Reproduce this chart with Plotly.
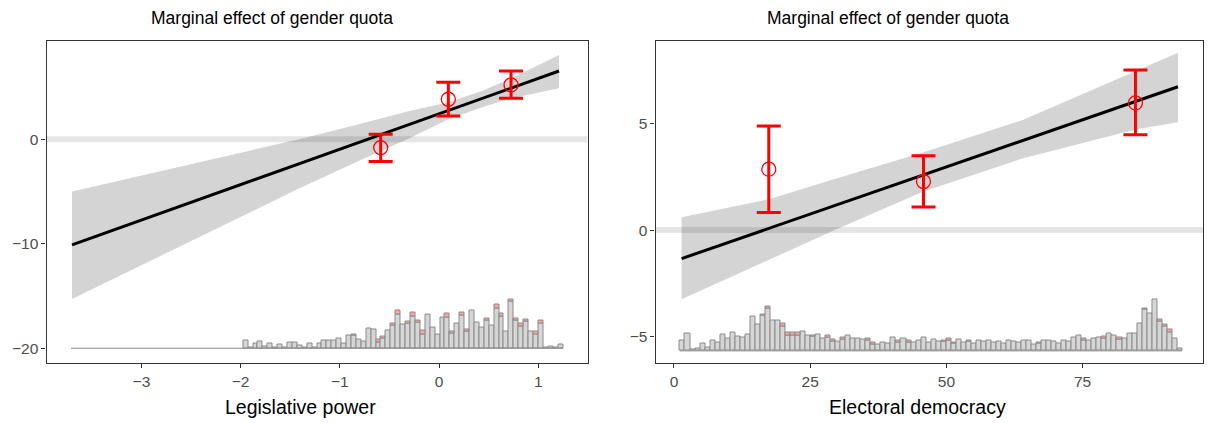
import numpy as np
import plotly.graph_objects as go

W, H = 1209, 423

# ---------------- Left panel: Legislative power ----------------
leg_line_x = [-3.70, 1.21]
leg_line_y = [-10.11, 6.53]
leg_rib_x = [-3.70, -2.5, -1.4, -0.8, -0.31, 0.1, 0.45, 0.72, 1.21]
leg_rib_upper = [-5.01, -2.35, 0.03, 1.47, 2.68, 3.55, 4.70, 5.80, 8.06]
leg_rib_lower = [-15.28, -9.75, -4.67, -2.03, 0.05, 1.95, 3.10, 3.90, 4.88]
leg_pts_x = [-0.588, 0.094, 0.726]
leg_pts_y = [-0.80, 3.83, 5.20]
leg_pts_lo = [-2.14, 2.23, 3.92]
leg_pts_hi = [0.48, 5.45, 6.54]
leg_hist_range = [-3.71, 1.25]
leg_hist_total = [0] * 35 + [
    23, 3, 13, 20, 5, 15, 3, 12, 3, 18, 18, 8, 3, 15, 3, 13, 23, 23, 24, 28,
    13, 39, 40, 27, 21, 60, 55, 27, 35, 52, 75, 113, 72, 80, 107, 83, 53, 101, 63, 40,
    93, 103, 51, 75, 108, 57, 114, 78, 63, 89, 67, 130, 105, 51, 147, 89, 73, 87, 49, 49,
    82, 3, 5, 2, 11]
leg_hist_treated = [0] * 35 + [
    0, 0, 0, 0, 0, 0, 0, 0, 0, 0, 0, 0, 0, 0, 0, 0, 0, 0, 0, 0,
    0, 0, 3, 0, 0, 0, 0, 9, 5, 0, 7, 12, 0, 6, 11, 7, 12, 0, 0, 0,
    0, 10, 6, 0, 10, 6, 0, 0, 0, 6, 0, 11, 9, 0, 6, 6, 7, 8, 0, 8,
    9, 0, 0, 0, 0]
leg_xticks = [-3, -2, -1, 0, 1]
leg_yticks = [-20, -10, 0]

# ---------------- Right panel: Electoral democracy ----------------
dem_line_x = [1.4, 92.5]
dem_line_y = [-1.34, 6.73]
dem_rib_x = [1.4, 17.4, 29.5, 45.8, 63.8, 84.7, 92.5]
dem_rib_upper = [0.60, 1.45, 2.40, 3.65, 5.15, 7.47, 8.33]
dem_rib_lower = [-3.25, -1.40, 0.0, 1.81, 3.35, 4.72, 5.06]
dem_pts_x = [17.4, 45.8, 84.7]
dem_pts_y = [2.86, 2.28, 5.97]
dem_pts_lo = [0.82, 1.08, 4.47]
dem_pts_hi = [4.89, 3.49, 7.52]
dem_hist_range = [1.1, 93.3]
dem_hist_total = [
    30, 50, 5, 8, 22, 9, 30, 23, 47, 35, 53, 42, 39, 47, 100, 75, 105, 127, 87, 87,
    78, 53, 53, 53, 55, 45, 45, 47, 37, 45, 33, 27, 38, 43, 37, 37, 32, 36, 23, 18,
    23, 21, 38, 30, 35, 30, 23, 29, 39, 23, 34, 26, 31, 35, 25, 34, 25, 30, 20, 29,
    26, 31, 24, 28, 22, 30, 27, 25, 30, 29, 17, 25, 30, 30, 28, 20, 30, 27, 39, 45,
    35, 30, 35, 40, 42, 50, 45, 39, 35, 50, 50, 78, 123, 107, 147, 90, 75, 62, 37, 8]
dem_hist_treated = [
    0, 0, 0, 0, 0, 0, 0, 0, 0, 0, 0, 0, 0, 0, 0, 0, 4, 4, 0, 0,
    8, 8, 8, 10, 0, 0, 3, 0, 0, 5, 5, 0, 5, 0, 0, 0, 0, 5, 5, 0,
    0, 0, 0, 5, 0, 5, 0, 0, 0, 0, 0, 0, 4, 4, 4, 0, 0, 4, 0, 0,
    0, 0, 0, 0, 0, 0, 0, 0, 0, 0, 0, 4, 0, 0, 0, 0, 0, 0, 0, 0,
    5, 0, 0, 0, 5, 0, 0, 5, 0, 0, 0, 0, 5, 0, 0, 6, 6, 8, 0, 0]
dem_xticks = [0, 25, 50, 75]
dem_yticks = [-5, 0, 5]

TITLE = "Marginal effect of gender quota"
LEG_XLAB = "Legislative power"
DEM_XLAB = "Electoral democracy"

# ---------------- styling / layout (pixels) ----------------
FONT = "Liberation Sans, Arial, Helvetica, sans-serif"
RIBBON = "rgba(0,0,0,0.17)"
BAND = "rgba(0,0,0,0.10)"
HIST_FILL = "#d6d6d6"
HIST_TREAT = "#ffa3a3"
HIST_LINE = "#8a8a8a"

panels = [
    dict(xa="x", ya="y", px=(46.5, 587.5), xr=(-3.957, 1.497), yr=(-21.41, 9.45),
         line_x=leg_line_x, line_y=leg_line_y, rib_x=leg_rib_x, up=leg_rib_upper, lo=leg_rib_lower,
         pts_x=leg_pts_x, pts_y=leg_pts_y, pts_lo=leg_pts_lo, pts_hi=leg_pts_hi,
         hr=leg_hist_range, ht=leg_hist_total, htr=leg_hist_treated, base=-20.0, hmax=4.69,
         xticks=leg_xticks, yticks=leg_yticks, xlab=LEG_XLAB, title_px=272, xlab_px=300),
    dict(xa="x2", ya="y2", px=(655.5, 1203.0), xr=(-3.39, 97.1), yr=(-6.24, 8.90),
         line_x=dem_line_x, line_y=dem_line_y, rib_x=dem_rib_x, up=dem_rib_upper, lo=dem_rib_lower,
         pts_x=dem_pts_x, pts_y=dem_pts_y, pts_lo=dem_pts_lo, pts_hi=dem_pts_hi,
         hr=dem_hist_range, ht=dem_hist_total, htr=dem_hist_treated, base=-5.67, hmax=2.39,
         xticks=dem_xticks, yticks=dem_yticks, xlab=DEM_XLAB, title_px=888, xlab_px=917),
]

TOP_PX, BOT_PX = 40.5, 363.0

fig = go.Figure()
annotations = []
layout_axes = {}

for i, p in enumerate(panels):
    xa, ya = p["xa"], p["ya"]
    # zero reference band
    fig.add_trace(go.Scatter(x=[p["xr"][0], p["xr"][1]], y=[0, 0], mode="lines",
                             line=dict(color=BAND, width=6), hoverinfo="skip",
                             showlegend=False, xaxis=xa, yaxis=ya))
    # histogram
    n = len(p["ht"])
    edges = np.linspace(p["hr"][0], p["hr"][1], n + 1)
    centers = (edges[:-1] + edges[1:]) / 2
    bw = edges[1] - edges[0]
    total = np.array(p["ht"], dtype=float)
    treat = np.array(p["htr"], dtype=float)
    ctrl = total - treat
    scale = p["hmax"] / total.max()
    fig.add_trace(go.Scatter(x=[edges[0], edges[-1]], y=[p["base"], p["base"]], mode="lines",
                             line=dict(color=HIST_LINE, width=1), hoverinfo="skip",
                             showlegend=False, xaxis=xa, yaxis=ya))
    m = total > 0
    fig.add_trace(go.Bar(x=centers[m], y=ctrl[m] * scale, base=p["base"], width=bw,
                         marker=dict(color=HIST_FILL, line=dict(color=HIST_LINE, width=1)),
                         showlegend=False, hoverinfo="skip", xaxis=xa, yaxis=ya))
    mt = treat > 0
    fig.add_trace(go.Bar(x=centers[mt], y=treat[mt] * scale, base=p["base"] + ctrl[mt] * scale,
                         width=bw,
                         marker=dict(color=HIST_TREAT, line=dict(color=HIST_LINE, width=1)),
                         showlegend=False, hoverinfo="skip", xaxis=xa, yaxis=ya))
    # ribbon
    fig.add_trace(go.Scatter(x=list(p["rib_x"]) + list(p["rib_x"])[::-1],
                             y=list(p["up"]) + list(p["lo"])[::-1],
                             fill="toself", fillcolor=RIBBON, line=dict(width=0),
                             mode="lines", hoverinfo="skip", showlegend=False,
                             xaxis=xa, yaxis=ya))
    # regression line
    fig.add_trace(go.Scatter(x=p["line_x"], y=p["line_y"], mode="lines",
                             line=dict(color="black", width=3), showlegend=False,
                             xaxis=xa, yaxis=ya))
    # binned estimates
    yv = np.array(p["pts_y"])
    fig.add_trace(go.Scatter(x=p["pts_x"], y=p["pts_y"], mode="markers",
                             marker=dict(symbol="circle-open", size=14, color="red",
                                         line=dict(width=1.3, color="red")),
                             error_y=dict(type="data", symmetric=False,
                                          array=list(np.array(p["pts_hi"]) - yv),
                                          arrayminus=list(yv - np.array(p["pts_lo"])),
                                          color="red", thickness=3, width=12),
                             showlegend=False, xaxis=xa, yaxis=ya))

    dom_x = [p["px"][0] / W, p["px"][1] / W]
    dom_y = [1 - BOT_PX / H, 1 - TOP_PX / H]
    axcommon = dict(showgrid=False, zeroline=False, showline=True, mirror=True,
                    linecolor="#333333", linewidth=1.1, ticks="outside", ticklen=4,
                    tickcolor="#333333", tickwidth=1.1,
                    tickfont=dict(family=FONT, size=15.5, color="#4d4d4d"))
    suffix = "" if i == 0 else str(i + 1)
    layout_axes["xaxis" + suffix] = dict(axcommon, domain=dom_x, range=list(p["xr"]),
                                         tickvals=p["xticks"], anchor=ya)
    layout_axes["yaxis" + suffix] = dict(axcommon, domain=dom_y, range=list(p["yr"]),
                                         tickvals=p["yticks"], anchor=xa)
    annotations.append(dict(text=TITLE, x=p["title_px"] / W, y=1 - 18 / H, xref="paper",
                            yref="paper", xanchor="center", yanchor="middle", showarrow=False,
                            font=dict(family=FONT, size=17.5, color="black")))
    annotations.append(dict(text=p["xlab"], x=p["xlab_px"] / W, y=1 - 407 / H, xref="paper",
                            yref="paper", xanchor="center", yanchor="middle", showarrow=False,
                            font=dict(family=FONT, size=19.5, color="black")))

fig.update_layout(width=W, height=H, margin=dict(l=0, r=0, t=0, b=0),
                  paper_bgcolor="white", plot_bgcolor="white", barmode="overlay",
                  bargap=0, annotations=annotations, **layout_axes)

fig.write_html("out.html", config={"displayModeBar": False},
               post_script="document.body.style.margin='0px';document.body.style.overflow='hidden';")
